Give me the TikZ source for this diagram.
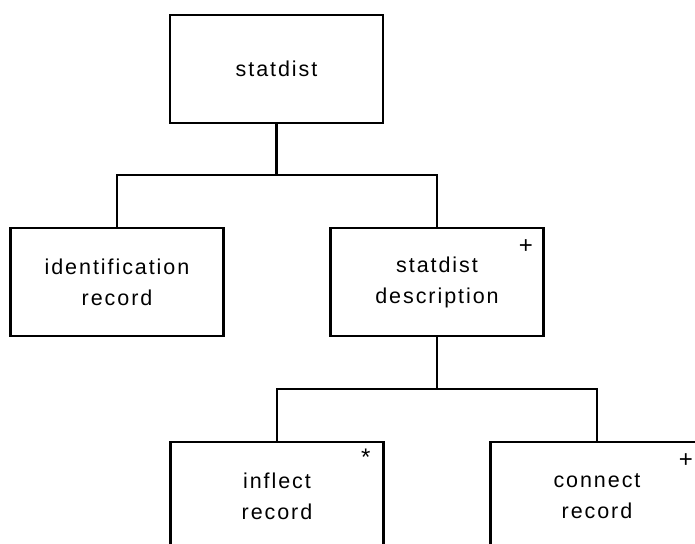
\documentclass[tikz,border=0pt]{standalone}
\usepackage{fontspec}
\newfontfamily\boxfont[LetterSpace=9]{Liberation Sans}
\begin{document}
\begin{tikzpicture}[x=1pt,y=-1pt,
  treebox/.style={draw=black, line width=2.8pt, minimum width=213pt, minimum height=108pt,
    inner sep=0pt, align=center, font=\boxfont\fontsize{21.5}{31}\selectfont},
  link/.style={draw=black, line width=2.8pt, line join=miter},
  marker/.style={font=\boxfont\fontsize{24}{28}\selectfont, inner sep=0pt}]
  \useasboundingbox (0,0) rectangle (695,543);

  % boxes
  \node[treebox] (root)    at (276.5,69)  {statdist};
  \node[treebox] (ident)   at (117,282)   {identification\\record};
  \node[treebox] (desc)    at (437,282)   {statdist\\description};
  \node[treebox] (inflect) at (277,496)   {inflect\\record};
  \node[treebox] (connect) at (597,496)   {connect\\record};

  % junction points of the branches
  \coordinate (j1) at (276.5,175);
  \coordinate (j2) at (437,389);

  % connectors
  \draw[link] (root.south) -- (j1);
  \draw[link] (ident.north) |- (j1) -| (desc.north);
  \draw[link] (desc.south) -- (j2);
  \draw[link] (inflect.north) |- (j2) -| (connect.north);

  % repetition markers inside the upper right corners
  \node[marker] (mdesc)    at ([xshift=-19pt,yshift=-20pt]desc.north east)    {+};
  \node[marker] (minflect) at ([xshift=-19pt,yshift=-17pt]inflect.north east) {*};
  \node[marker] (mconnect) at ([xshift=-19pt,yshift=-20pt]connect.north east) {+};
\end{tikzpicture}
\end{document}
